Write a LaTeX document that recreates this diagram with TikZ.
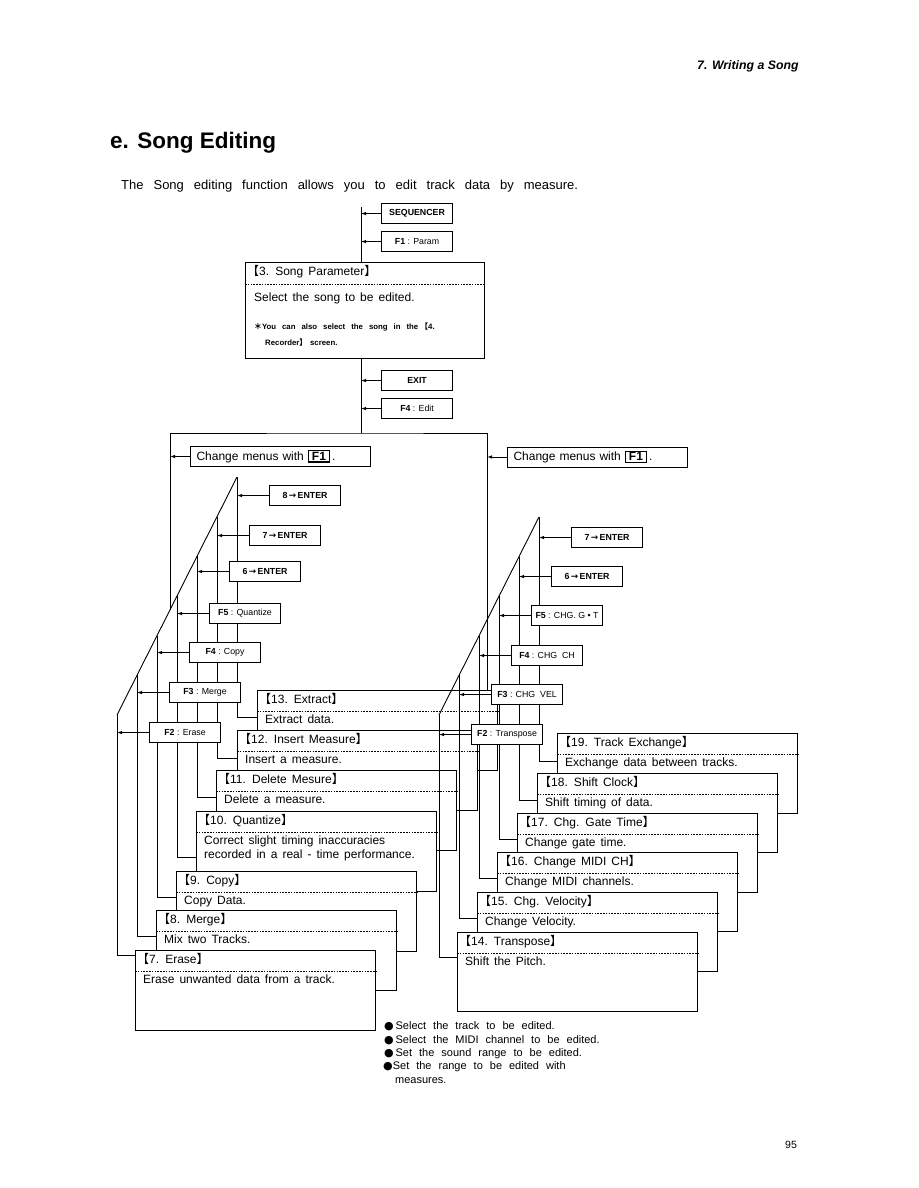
\documentclass[tikz,border=0pt]{standalone}
\usepackage{fontspec}
\setmainfont{Liberation Sans}
\newfontfamily\cjk{Noto Sans CJK JP}
\newfontfamily\dejavu{DejaVu Sans}
\usetikzlibrary{arrows.meta,calc}

\newcommand{\lbk}{\makebox[0.5em][r]{\cjk 【}}
\newcommand{\rbk}{\makebox[0.6em][l]{\cjk 】}}
\newcommand{\fkey}[1]{{\setlength{\fboxsep}{1pt}\setlength{\fboxrule}{1.1pt}\fbox{\,\textbf{#1}\,}}}
\newcommand{\bt}{\fontsize{12}{14}\selectfont\spaceskip=5pt plus 1pt\relax}
\newcommand{\introf}{\fontsize{13}{15}\selectfont\spaceskip=10pt plus 1pt\relax}
\newcommand{\blf}{\fontsize{11}{13}\selectfont\spaceskip=7pt plus 1pt\relax}
\newcommand{\notef}{\fontsize{7.8}{9}\selectfont\bfseries\spaceskip=6pt plus 1pt\relax}
\newcommand{\ar}{{\dejavu\,→\,}}

\tikzset{
  lnw/.style={line width=0.9pt},
  arrw/.style={line width=0.9pt,-{Latex[length=5pt,width=3.5pt]}},
  keybox/.style={draw,line width=1.1pt,fill=white,minimum width=71pt,minimum height=20pt,
    inner sep=0pt,anchor=north west,font=\fontsize{8.8}{10}\selectfont},
  fnframe/.style={draw,line width=1pt,fill=white,minimum width=240pt,inner sep=0pt,anchor=north west},
  sepline/.style={line width=0.8pt,dash pattern=on 1.6pt off 1.2pt},
  txtn/.style={inner sep=0pt,anchor=west,font=\bt,text height=8.6pt,text depth=2.4pt},
  chmenu/.style={draw,line width=1pt,fill=white,anchor=north west,minimum height=20pt,
    inner xsep=6pt,inner ysep=0pt,text width=168pt,align=left,font=\bt},
}

\newcommand{\fnbox}[6]{%
  \node[fnframe,minimum height=#4pt] (#1) at (#2,#3) {};
  \draw[sepline] ([yshift=-21pt]#1.north west) -- ([yshift=-21pt]#1.north east);
  \node[txtn] (#1h) at ([xshift=8pt,yshift=-10.5pt]#1.north west) {#5};
  \node[txtn] (#1d) at ([xshift=8pt,yshift=-30.5pt]#1.north west) {#6};
}

\begin{document}
\begin{tikzpicture}[x=1pt,y=-1pt]
\useasboundingbox (0,0) rectangle (918,1188);

% page texts
\node[inner sep=0pt,anchor=west,font=\fontsize{12.3}{14}\selectfont\bfseries\itshape] (runhead) at (697,66) {7. Writing a Song};
\node[inner sep=0pt,anchor=west,font=\fontsize{22.5}{26}\selectfont\bfseries] (title) at (110,143) {e. Song Editing};
\node[inner sep=0pt,anchor=west,font=\introf] (intro) at (121,186) {The Song editing function allows you to edit track data by measure.};
\node[inner sep=0pt,anchor=west,font=\fontsize{10.5}{12}\selectfont] (pageno) at (785,1145) {95};

% main line
\coordinate (mtop) at (361,207);
\coordinate (mbot) at (361,433);
\draw[lnw] (mtop) -- (mbot);

\node[keybox] (kseq) at (381,203) {\textbf{SEQUENCER}};
\node[keybox] (kf1) at (381,231) {\textbf{F1} : Param};
\node[keybox] (kexit) at (381,370) {\textbf{EXIT}};
\node[keybox] (kf4) at (381,398) {\textbf{F4} : Edit};
\foreach \k in {kseq,kf1,kexit,kf4} \draw[arrw] (\k.west) -- (\k.west -| mtop);

% box 3
\node[fnframe,minimum width=239pt,minimum height=96pt] (b3) at (245,262) {};
\draw[sepline] ([yshift=-22pt]b3.north west) -- ([yshift=-22pt]b3.north east);
\node[txtn] (b3h) at ([xshift=8pt,yshift=-10pt]b3.north west) {\lbk 3. Song Parameter\rbk};
\node[txtn] (b3d) at ([xshift=9pt,yshift=-36pt]b3.north west) {Select the song to be edited.};
\node[inner sep=0pt,anchor=west,font=\notef] (b3n1) at ([xshift=9pt,yshift=-65pt]b3.north west) {{\cjk ＊}You can also select the song in the \lbk 4.};
\node[inner sep=0pt,anchor=west,font=\notef] (b3n2) at ([xshift=20pt,yshift=-81pt]b3.north west) {Recorder\rbk\ screen.};

% frame
\coordinate (FL) at (170,609.9);
\coordinate (FR) at (487,700);
\draw[lnw] (FL) |- (mbot) -| (FR);

\node[chmenu] (cmL) at (190,446) {Change menus with \fkey{F1}\,.};
\draw[arrw] (cmL.west) -- (cmL.west -| FL);
\node[chmenu] (cmR) at (507,446.5) {Change menus with \fkey{F1}\,.};
\draw[arrw] (cmR.west) -- (cmR.west -| FR);

% ---------- left column ----------
\coordinate (L8) at (237,477);
\coordinate (L7) at (217,516.7);
\coordinate (L6) at (197,556.3);
\coordinate (L5) at (177,596);
\coordinate (L4) at (157,635.7);
\coordinate (L3) at (137,675.3);
\coordinate (L2) at (117,715);
\draw[lnw] (L8) -- (L2);

\fnbox{b13}{257}{690}{80}{\lbk 13. Extract\rbk}{Extract data.}
\fnbox{b12}{237}{730}{80}{\lbk 12. Insert Measure\rbk}{Insert a measure.}
\fnbox{b11}{216}{770}{80}{\lbk 11. Delete Mesure\rbk}{Delete a measure.}
\fnbox{b10}{196}{811}{80}{\lbk 10. Quantize\rbk}{Correct slight timing inaccuracies}
\node[txtn] (b10e) at ([xshift=8pt,yshift=-44.5pt]b10.north west) {recorded in a real - time performance.};
\fnbox{b9}{176}{871}{80}{\lbk 9. Copy\rbk}{Copy Data.}
\fnbox{b8}{156}{910}{80}{\lbk 8. Merge\rbk}{Mix two Tracks.}
\fnbox{b7}{135}{950}{80}{\lbk 7. Erase\rbk}{Erase unwanted data from a track.}

\draw[lnw] (L8) |- ([yshift=-27pt]b13.north west);
\draw[lnw] (L7) |- ([yshift=-28pt]b12.north west);
\draw[lnw] (L6) |- ([yshift=-27pt]b11.north west);
\draw[lnw] (L5) |- ([yshift=-46pt]b10.north west);
\draw[lnw] (L4) |- ([yshift=-26pt]b9.north west);
\draw[lnw] (L3) |- ([yshift=-26pt]b8.north west);
\draw[lnw] (L2) |- ([yshift=-5pt]b7.north west);

\node[keybox] (k8) at (269,485) {\textbf{8\ar ENTER}};
\node[keybox] (k7) at (249,525) {\textbf{7\ar ENTER}};
\node[keybox] (k6) at (229,561) {\textbf{6\ar ENTER}};
\node[keybox] (kq) at (209,603) {\textbf{F5} : Quantize};
\node[keybox] (kc) at (189,642) {\textbf{F4} : Copy};
\node[keybox] (km) at (169,682) {\textbf{F3} : Merge};
\node[keybox] (ke) at (149,722) {\textbf{F2} : Erase};
\draw[arrw] (k8.west) -- (k8.west -| L8);
\draw[arrw] (k7.west) -- (k7.west -| L7);
\draw[arrw] (k6.west) -- (k6.west -| L6);
\draw[arrw] (kq.west) -- (kq.west -| L5);
\draw[arrw] (kc.west) -- (kc.west -| L4);
\draw[arrw] (km.west) -- (km.west -| L3);
\draw[arrw] (ke.west) -- (ke.west -| L2);

% ---------- right column ----------
\coordinate (R7) at (539,517);
\coordinate (R6) at (519,556.6);
\coordinate (R5) at (499,596.2);
\coordinate (R4) at (479,635.8);
\coordinate (R3) at (459,675.4);
\coordinate (R2) at (439,715);
\draw[lnw] (R7) -- (R2);

\fnbox{b19}{557}{733}{80}{\lbk 19. Track Exchange\rbk}{Exchange data between tracks.}
\fnbox{b18}{537}{773}{79}{\lbk 18. Shift Clock\rbk}{Shift timing of data.}
\fnbox{b17}{517}{813}{79}{\lbk 17. Chg. Gate Time\rbk}{Change gate time.}
\fnbox{b16}{497}{852}{79}{\lbk 16. Change MIDI CH\rbk}{Change MIDI channels.}
\fnbox{b15}{477}{892}{79}{\lbk 15. Chg. Velocity\rbk}{Change Velocity.}
\fnbox{b14}{457}{932}{79}{\lbk 14. Transpose\rbk}{Shift the Pitch.}

\draw[lnw] (R7) |- ([yshift=-28pt]b19.north west);
\draw[lnw] (R6) |- ([yshift=-27pt]b18.north west);
\draw[lnw] (R5) |- ([yshift=-26pt]b17.north west);
\draw[lnw] (R4) |- ([yshift=-26pt]b16.north west);
\draw[lnw] (R3) |- ([yshift=-26pt]b15.north west);
\draw[lnw] (R2) |- ([yshift=-25pt]b14.north west);

\node[keybox] (r7) at (571,527) {\textbf{7\ar ENTER}};
\node[keybox] (r6) at (551,566) {\textbf{6\ar ENTER}};
\node[keybox] (rg) at (531,605) {\textbf{F5} : CHG. G • T};
\node[keybox] (rc) at (511,645) {\textbf{F4} : CHG\ \ CH};
\node[keybox] (rv) at (491,684) {\textbf{F3} : CHG\ \ VEL};
\node[keybox] (rt) at (471,724) {\textbf{F2} : Transpose};
\draw[arrw] (r7.west) -- (r7.west -| R7);
\draw[arrw] (r6.west) -- (r6.west -| R6);
\draw[arrw] (rg.west) -- (rg.west -| R5);
\draw[arrw] (rc.west) -- (rc.west -| R4);
\draw[arrw] (rv.west) -- (rv.west -| R3);
\draw[arrw] (rt.west) -- (rt.west -| R2);

% bullets
\node[inner sep=0pt,anchor=west,font=\blf] (bu1) at (384,1026) {{\dejavu ●}\,Select the track to be edited.};
\node[inner sep=0pt,anchor=west,font=\blf] (bu2) at (384,1040) {{\dejavu ●}\,Select the MIDI channel to be edited.};
\node[inner sep=0pt,anchor=west,font=\blf] (bu3) at (384,1054) {{\dejavu ●}\,Set the sound range to be edited.};
\node[inner sep=0pt,anchor=west,font=\blf] (bu4) at (383,1067) {{\dejavu ●}Set the range to be edited with};
\node[inner sep=0pt,anchor=west,font=\blf] (bu5) at (395,1081) {measures.};
\end{tikzpicture}
\end{document}
